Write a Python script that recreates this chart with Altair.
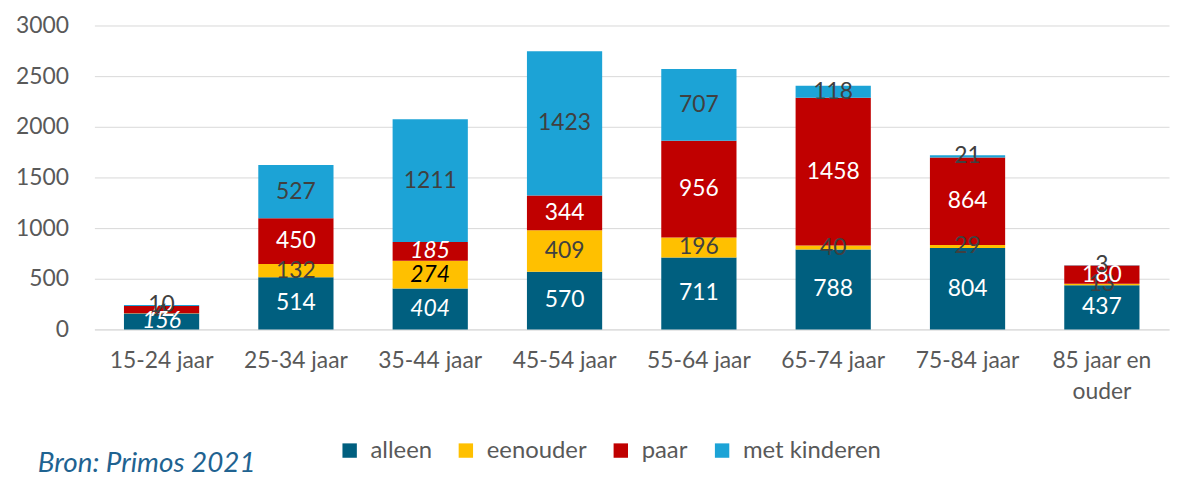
import altair as alt
import pandas as pd

categories = ["15-24 jaar", "25-34 jaar", "35-44 jaar", "45-54 jaar",
              "55-64 jaar", "65-74 jaar", "75-84 jaar", "85 jaar en ouder"]
series = ["alleen", "eenouder", "paar", "met kinderen"]
alleen = [156, 514, 404, 570, 711, 788, 804, 437]
eenouder = [4, 132, 274, 409, 196, 40, 29, 13]
paar = [72, 450, 185, 344, 956, 1458, 864, 180]
met_kinderen = [10, 527, 1211, 1423, 707, 118, 21, 3]
colors = ["#005F7F", "#FFC000", "#C00000", "#1CA3D6"]
y_ticks = [0, 500, 1000, 1500, 2000, 2500, 3000]

rows = []
for i, c in enumerate(categories):
    for j, (s, vals) in enumerate(zip(series, [alleen, eenouder, paar, met_kinderen])):
        rows.append({"categorie": c, "type": s, "waarde": vals[i], "volgorde": j})
df = pd.DataFrame(rows)

FONT = "Lato"
GREY = "#595959"

x_enc = alt.X("categorie:N", sort=categories, title=None,
              scale=alt.Scale(paddingInner=0.44, paddingOuter=0.22),
              axis=alt.Axis(labelAngle=0, labelFontSize=23, labelColor=GREY, labelFont=FONT,
                            ticks=False, domainColor="#D9D9D9", labelPadding=20,
                            labelLineHeight=32,
                            labelExpr="datum.label == '85 jaar en ouder' ? ['85 jaar en', 'ouder'] : datum.label"))

base = alt.Chart(df)

bars = base.mark_bar().encode(
    x=x_enc,
    y=alt.Y("waarde:Q", stack="zero", title=None,
            scale=alt.Scale(domain=[0, 3000], nice=False),
            axis=alt.Axis(values=y_ticks, format="d", labelFontSize=23, labelColor=GREY, labelFont=FONT,
                          ticks=False, domain=False, gridColor="#D9D9D9", labelPadding=26)),
    color=alt.Color("type:N", sort=series, scale=alt.Scale(domain=series, range=colors),
                    legend=alt.Legend(title=None, orient="none", direction="horizontal",
                                      legendX=245, legendY=416, columns=4,
                                      symbolType="square", symbolSize=210, symbolStrokeWidth=0,
                                      labelFontSize=24, labelFont=FONT, labelColor=GREY,
                                      labelOffset=9, columnPadding=22)),
    order=alt.Order("volgorde:Q", sort="ascending"),
)

text_base = base.transform_stack(
    stack="waarde", groupby=["categorie"], as_=["y0", "y1"],
    sort=[alt.SortField("volgorde", order="ascending")]
).transform_calculate(
    mid="(datum.y0 + datum.y1) / 2",
    tc="(datum.type == 'alleen' || datum.type == 'paar') ? 'white' : ((datum.categorie == '35-44 jaar' && datum.type == 'eenouder') ? 'black' : '#404040')",
    ital="(datum.categorie == '35-44 jaar' && datum.type != 'met kinderen') || (datum.categorie == '15-24 jaar' && datum.type == 'alleen')",
)

def label_layer(italic):
    return text_base.transform_filter(
        "datum.ital" if italic else "!datum.ital"
    ).mark_text(fontSize=23, font=FONT, fontStyle="italic" if italic else "normal",
                baseline="middle", align="center").encode(
        x=alt.X("categorie:N", sort=categories),
        y=alt.Y("mid:Q"),
        text=alt.Text("waarde:Q"),
        color=alt.Color("tc:N", scale=None),
    )

source = alt.Chart(pd.DataFrame({"t": ["Bron: Primos 2021"]})).mark_text(
    align="left", baseline="middle", fontSize=28, font=FONT, fontStyle="italic", color="#1F6391"
).encode(x=alt.value(-57), y=alt.value(442), text="t:N")

chart = alt.layer(bars, label_layer(False), label_layer(True), source).properties(
    width=1082, height=306,
    autosize=alt.AutoSizeParams(type="none"),
    padding={"left": 87, "top": 16, "right": 4, "bottom": 147},
).configure_view(stroke=None).resolve_scale(color="independent")

chart.save("out.html", embed_options={"renderer": "svg", "actions": False})
